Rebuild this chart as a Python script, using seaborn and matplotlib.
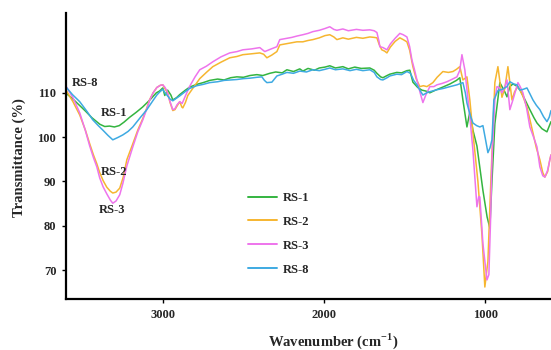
import numpy as np
import pandas as pd
import matplotlib
matplotlib.use("Agg")
import matplotlib.pyplot as plt
import seaborn as sns

# FTIR spectra: wavenumber (cm-1) and transmittance (%) for each sample
rs1_wn = [3600, 3560, 3520, 3480, 3440, 3390, 3360, 3330, 3300, 3270,
          3240, 3205, 3165, 3125, 3080, 3040, 3020, 3000, 2988, 2970,
          2950, 2938, 2915, 2895, 2860, 2833, 2790, 2750, 2709, 2660,
          2620, 2580, 2541, 2500, 2460, 2417, 2380, 2337, 2300, 2260,
          2231, 2190, 2151, 2132, 2100, 2060, 2030, 1995, 1965, 1930,
          1884, 1850, 1810, 1770, 1717, 1690, 1673, 1650, 1636, 1610,
          1593, 1550, 1520, 1487, 1469, 1450, 1420, 1394, 1370, 1345,
          1310, 1264, 1220, 1180, 1159, 1140, 1115, 1097, 1078, 1053,
          1016, 990, 973, 960, 942, 911, 880, 867, 849, 830,
          810, 787, 760, 725, 700, 681, 650, 619, 594]
rs1_t = [109.9, 108.7, 107.3, 105.9, 104.4, 102.9, 102.4, 102.5, 102.3, 102.6,
         103.4, 104.5, 105.6, 106.8, 108.4, 110.0, 110.4, 111.1, 109.4, 110.6,
         109.5, 108.4, 108.9, 109.6, 110.6, 111.3, 111.9, 112.3, 112.8, 113.1,
         112.9, 113.4, 113.6, 113.5, 113.9, 114.1, 113.9, 114.4, 114.7, 114.5,
         115.2, 114.8, 115.4, 114.9, 115.5, 115.1, 115.6, 115.8, 116.1, 115.6,
         115.9, 115.4, 115.8, 115.5, 115.6, 115.1, 114.4, 113.6, 113.4, 113.9,
         114.2, 114.6, 114.5, 115.0, 115.1, 112.4, 111.2, 110.6, 110.4, 110.0,
         110.6, 111.3, 112.0, 112.8, 113.4, 108.4, 102.3, 105.7, 101.6, 98.0,
         88.0, 82.0, 79.5, 90.0, 103.0, 112.3, 110.2, 109.1, 111.4, 112.0,
         111.6, 110.7, 108.8, 106.2, 104.4, 103.2, 101.9, 101.2, 103.5]

rs2_wn = [3600, 3557, 3515, 3480, 3453, 3430, 3409, 3391, 3370, 3347,
          3325, 3310, 3290, 3267, 3245, 3223, 3186, 3155, 3124, 3100,
          3081, 3060, 3037, 3015, 3000, 2988, 2970, 2955, 2938, 2925,
          2912, 2895, 2882, 2876, 2860, 2845, 2820, 2771, 2730, 2690,
          2640, 2585, 2540, 2504, 2450, 2399, 2375, 2355, 2325, 2293,
          2275, 2230, 2169, 2132, 2100, 2070, 2030, 1995, 1965, 1940,
          1921, 1884, 1850, 1800, 1760, 1717, 1690, 1673, 1660, 1643,
          1625, 1611, 1590, 1560, 1531, 1510, 1487, 1470, 1450, 1430,
          1407, 1385, 1363, 1326, 1300, 1264, 1230, 1202, 1180, 1159,
          1140, 1115, 1097, 1078, 1047, 1022, 1004, 985, 967, 942,
          923, 898, 880, 861, 836, 820, 799, 770, 743, 725,
          706, 685, 663, 645, 632, 615, 601, 594]
rs2_t = [110.6, 108.0, 105.0, 101.6, 98.5, 96.0, 94.0, 92.0, 90.2, 88.7,
         87.8, 87.4, 87.6, 88.5, 91.0, 94.9, 98.5, 101.6, 104.2, 106.5,
         108.5, 110.0, 111.2, 111.7, 111.8, 111.0, 110.0, 107.8, 106.0, 106.2,
         107.0, 108.0, 106.8, 106.6, 107.8, 109.4, 110.7, 113.2, 114.6, 115.9,
         116.9, 117.9, 118.2, 118.6, 118.8, 119.0, 118.7, 117.9, 118.5, 119.3,
         120.8, 121.1, 121.5, 121.5, 121.8, 122.0, 122.4, 122.9, 123.1, 122.6,
         122.0, 122.4, 122.1, 122.5, 122.3, 122.6, 122.5, 122.4, 121.0, 119.7,
         119.4, 119.0, 120.3, 121.6, 122.4, 122.0, 121.5, 119.6, 115.9, 113.2,
         111.4, 111.6, 111.4, 112.3, 113.5, 114.8, 114.6, 114.8, 115.3, 115.9,
         112.9, 113.6, 108.4, 101.0, 90.0, 78.0, 66.2, 72.0, 90.0, 112.3,
         115.9, 109.0, 111.0, 115.9, 108.4, 110.2, 111.5, 109.4, 106.8, 104.0,
         101.0, 97.6, 94.9, 92.0, 91.0, 92.2, 95.0, 96.0]

rs3_wn = [3600, 3557, 3515, 3480, 3453, 3430, 3409, 3391, 3370, 3347,
          3325, 3310, 3290, 3267, 3248, 3223, 3186, 3155, 3124, 3100,
          3081, 3060, 3037, 3015, 3000, 2988, 2975, 2955, 2938, 2925,
          2912, 2895, 2880, 2860, 2833, 2800, 2771, 2730, 2690, 2640,
          2585, 2540, 2504, 2450, 2399, 2368, 2335, 2293, 2275, 2230,
          2200, 2169, 2132, 2100, 2070, 2030, 1995, 1965, 1940, 1921,
          1884, 1850, 1800, 1760, 1717, 1690, 1673, 1660, 1655, 1635,
          1611, 1590, 1560, 1531, 1510, 1487, 1470, 1456, 1440, 1425,
          1405, 1388, 1370, 1345, 1320, 1301, 1270, 1239, 1210, 1177,
          1160, 1146, 1128, 1110, 1097, 1078, 1053, 1042, 1035, 1016,
          991, 979, 968, 960, 942, 929, 915, 898, 880, 867,
          849, 830, 799, 785, 768, 745, 725, 700, 681, 663,
          645, 632, 615, 601, 594]
rs3_t = [111.5, 108.9, 105.5, 101.5, 98.0, 95.4, 93.3, 90.8, 88.8, 87.2,
         85.8, 85.1, 85.6, 87.0, 89.5, 93.5, 97.8, 101.2, 103.9, 106.3,
         108.4, 110.0, 111.2, 111.7, 111.8, 111.3, 110.5, 108.0, 106.2, 106.4,
         107.3, 108.0, 107.6, 109.3, 111.5, 113.6, 115.2, 116.0, 117.0, 118.1,
         119.0, 119.3, 119.7, 119.9, 120.2, 119.3, 119.8, 120.4, 122.0, 122.3,
         122.5, 122.8, 123.1, 123.4, 123.8, 124.1, 124.5, 124.9, 124.3, 124.1,
         124.4, 124.0, 124.3, 124.1, 124.2, 124.0, 123.6, 121.6, 120.4, 120.2,
         119.7, 121.0, 122.3, 123.4, 123.1, 122.6, 120.4, 117.4, 115.2, 112.9,
         110.0, 107.8, 109.5, 111.4, 111.4, 111.8, 112.1, 112.5, 113.0, 113.6,
         115.0, 118.6, 115.2, 109.0, 104.6, 97.1, 84.3, 86.6, 86.5, 76.0,
         67.8, 69.0, 82.0, 95.0, 108.4, 111.4, 111.2, 110.0, 111.4, 112.9,
         106.2, 108.4, 112.3, 111.4, 110.0, 106.5, 102.3, 99.8, 97.8, 93.3,
         91.3, 91.0, 92.5, 94.9, 96.0]

rs8_wn = [3600, 3560, 3515, 3470, 3434, 3400, 3372, 3340, 3310, 3280,
          3248, 3215, 3186, 3140, 3099, 3060, 3037, 3019, 3000, 2985,
          2975, 2955, 2938, 2915, 2895, 2860, 2833, 2790, 2750, 2709,
          2660, 2620, 2580, 2541, 2500, 2460, 2417, 2386, 2370, 2355,
          2324, 2293, 2260, 2231, 2190, 2151, 2110, 2070, 2030, 1995,
          1965, 1930, 1884, 1840, 1800, 1760, 1717, 1690, 1673, 1650,
          1636, 1610, 1593, 1550, 1520, 1487, 1465, 1445, 1425, 1405,
          1388, 1360, 1330, 1301, 1260, 1220, 1177, 1140, 1125, 1115,
          1097, 1078, 1055, 1035, 1016, 1000, 985, 972, 960, 948,
          923, 895, 867, 849, 825, 805, 787, 765, 743, 725,
          706, 685, 663, 640, 619, 605, 594]
rs8_t = [111.3, 109.6, 108.0, 105.8, 103.9, 102.6, 101.6, 100.4, 99.4, 99.9,
         100.5, 101.3, 102.3, 104.4, 106.2, 108.3, 109.5, 110.2, 110.8, 109.9,
         109.5, 108.6, 108.2, 108.8, 109.3, 110.3, 111.0, 111.6, 111.9, 112.3,
         112.5, 112.8, 112.9, 113.0, 113.2, 113.3, 113.5, 113.6, 112.8, 112.3,
         112.4, 113.8, 114.2, 114.6, 114.4, 114.9, 114.7, 115.2, 115.0, 115.3,
         115.6, 115.2, 115.4, 115.0, 115.3, 115.0, 115.2, 114.6, 113.6, 113.0,
         112.9, 113.4, 113.8, 114.2, 114.1, 114.8, 114.4, 112.8, 111.8, 110.5,
         109.5, 110.1, 110.4, 110.7, 111.0, 111.4, 111.8, 112.3, 110.0, 107.7,
         105.2, 103.2, 102.6, 102.3, 102.6, 99.5, 96.5, 97.6, 99.4, 108.4,
         110.5, 110.8, 111.4, 112.5, 112.0, 111.8, 110.6, 110.8, 111.1, 109.8,
         108.4, 107.2, 106.2, 104.6, 103.5, 104.5, 106.0]

samples = ["RS-1", "RS-2", "RS-3", "RS-8"]
colors = ["#34b440", "#f6b630", "#ee74ec", "#3eaae2"]

# curve labels written next to the O-H band
label_text = ["RS-8", "RS-1", "RS-2", "RS-3"]
label_wn = [3484, 3304, 3304, 3316]
label_t = [112.3, 105.5, 92.2, 83.6]

series = {"RS-1": (rs1_wn, rs1_t), "RS-2": (rs2_wn, rs2_t),
          "RS-3": (rs3_wn, rs3_t), "RS-8": (rs8_wn, rs8_t)}
frames = []
for name in samples:
    wn, t = series[name]
    frames.append(pd.DataFrame({"Wavenumber": wn, "T": t, "Sample": name}))
df = pd.concat(frames, ignore_index=True)

sns.set_style("white")
plt.rcParams["font.family"] = ["Liberation Serif", "DejaVu Serif"]
plt.rcParams["font.weight"] = "bold"
plt.rcParams["mathtext.fontset"] = "custom"
plt.rcParams["mathtext.rm"] = "Liberation Serif"
plt.rcParams["mathtext.bf"] = "Liberation Serif:bold"

fig = plt.figure(figsize=(5.51, 3.5), dpi=100)
ax = fig.add_axes([66 / 551, 51 / 350, 485 / 551, 286 / 350])

sns.lineplot(data=df, x="Wavenumber", y="T", hue="Sample", hue_order=samples,
             palette=dict(zip(samples, colors)), sort=False, estimator=None,
             linewidth=1.1, ax=ax)

ax.set_xlim(3600, 594)
ax.set_ylim(63.5, 128)
ax.set_xticks([3000, 2000, 1000])
ax.set_yticks([70, 80, 90, 100, 110])
ax.tick_params(axis="both", which="major", direction="out", length=3,
               width=1, color="black", labelsize=9, pad=4, left=True, bottom=True)
for lbl in ax.get_xticklabels() + ax.get_yticklabels():
    lbl.set_fontweight("bold")

for side in ["top", "right"]:
    ax.spines[side].set_visible(False)
for side in ["left", "bottom"]:
    ax.spines[side].set_color("black")
    ax.spines[side].set_linewidth(1.6)

ax.set_xlabel(r"Wavenumber (cm$^{\mathbf{-1}}$)", fontsize=10.5, fontweight="bold")
ax.set_ylabel("Transmittance (%)", fontsize=10.5, fontweight="bold")
ax.xaxis.set_label_coords(0.55, -0.112)
ax.yaxis.set_label_coords(-0.083, 0.493)

for txt, xw, yt in zip(label_text, label_wn, label_t):
    ax.text(xw, yt, txt, fontsize=9, fontweight="bold", ha="center", va="center")

leg = ax.legend(loc="center left", bbox_to_anchor=(0.352, 0.228), frameon=False,
                fontsize=9, handlelength=2.3, handletextpad=0.45, labelspacing=0.95,
                borderpad=0.4, title=None)
for t in leg.get_texts():
    t.set_fontweight("bold")
for h in leg.get_lines():
    h.set_linewidth(1.4)

fig.savefig("out.png", dpi=100)
